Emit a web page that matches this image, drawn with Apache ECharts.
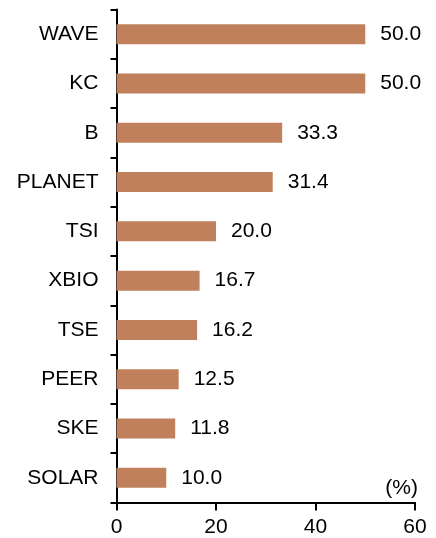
<!DOCTYPE html>
<html>
<head>
<meta charset="utf-8">
<script src="https://cdn.jsdelivr.net/npm/echarts@6/dist/echarts.min.js"></script>
<style>html,body{margin:0;padding:0;background:#fff;}#c{width:436px;height:538px;}</style>
</head>
<body>
<div id="c"></div>
<script>
var categories = ['WAVE', 'KC', 'B', 'PLANET', 'TSI', 'XBIO', 'TSE', 'PEER', 'SKE', 'SOLAR'];
var values = [50.0, 50.0, 33.3, 31.4, 20.0, 16.7, 16.2, 12.5, 11.8, 10.0];
var xTicks = [0, 20, 40, 60];
var unitLabel = '(%)';

var chart = echarts.init(document.getElementById('c'));
var font = 'Liberation Sans, Arial, sans-serif';
chart.setOption({
  animation: false,
  backgroundColor: '#fff',
  grid: { left: 116.5, right: 21, top: 9.5, bottom: 35.5, containLabel: false },
  xAxis: {
    type: 'value', min: xTicks[0], max: xTicks[xTicks.length - 1], interval: 20,
    axisLine: { show: true, lineStyle: { color: '#000', width: 2 } },
    axisTick: { show: true, length: 8, lineStyle: { color: '#000', width: 2 } },
    axisLabel: { color: '#000', fontSize: 21, fontFamily: font, margin: 14 },
    splitLine: { show: false }
  },
  yAxis: {
    type: 'category', data: categories, inverse: true,
    axisLine: { show: true, lineStyle: { color: '#000', width: 2 } },
    axisTick: { show: true, length: 6, alignWithLabel: false, lineStyle: { color: '#000', width: 2 } },
    axisLabel: { color: '#000', fontSize: 21, fontFamily: font, margin: 18 }
  },
  series: [{
    type: 'bar', data: values, barWidth: 20,
    itemStyle: { color: '#C0805C' },
    label: {
      show: true, position: 'right', distance: 15, color: '#000', fontSize: 21, fontFamily: font,
      formatter: function (p) { return p.value.toFixed(1); }
    }
  }],
  graphic: [{
    type: 'text', right: 18, top: 478,
    style: { text: unitLabel, fill: '#000', font: '21px ' + font }
  }]
});
</script>
</body>
</html>
